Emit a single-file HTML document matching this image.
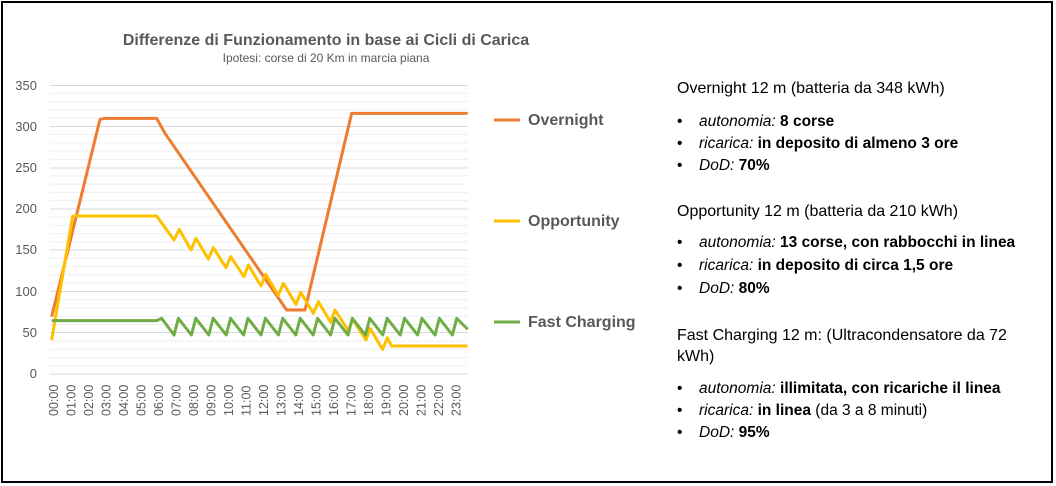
<!DOCTYPE html>
<html><head><meta charset="utf-8"><style>
body{margin:0;width:1056px;height:486px;background:#fff;font-family:"Liberation Sans",sans-serif;overflow:hidden}
.box{position:absolute;left:1px;top:1px;width:1048px;height:478px;border:2px solid #000}
.t{position:absolute;white-space:nowrap;font-size:16px;color:#000}
.b{position:absolute;white-space:nowrap;font-size:15.5px;color:#000;left:677px}
.b:before{content:"•";position:absolute;left:0}
.b span{margin-left:22px}
</style></head><body>
<div class="box"></div>
<svg width="1056" height="486" style="position:absolute;left:0;top:0">
<text x="326" y="45" text-anchor="middle" font-size="16" font-weight="bold" fill="#595959" font-family="Liberation Sans">Differenze di Funzionamento  in base ai Cicli di Carica</text>
<text x="326" y="62" text-anchor="middle" font-size="12" fill="#595959" font-family="Liberation Sans">Ipotesi: corse di 20 Km in marcia piana</text>
<g id="minor" stroke="#efefef"></g>
<g stroke="#d9d9d9" stroke-width="1">
<line x1="50" x2="468" y1="85.5" y2="85.5"/><line x1="50" x2="468" y1="126.5" y2="126.5"/><line x1="50" x2="468" y1="168" y2="168"/><line x1="50" x2="468" y1="209" y2="209"/><line x1="50" x2="468" y1="250" y2="250"/><line x1="50" x2="468" y1="291.5" y2="291.5"/><line x1="50" x2="468" y1="332.5" y2="332.5"/><line x1="50" x2="468" y1="374" y2="374"/>
</g>
<g font-size="13" fill="#595959" text-anchor="end" font-family="Liberation Sans">
<text x="37" y="90">350</text><text x="37" y="131">300</text><text x="37" y="172">250</text><text x="37" y="213">200</text><text x="37" y="254">150</text><text x="37" y="296">100</text><text x="37" y="337">50</text><text x="37" y="378">0</text>
</g>
<g id="xl" font-size="12.5" fill="#595959" font-family="Liberation Sans"></g>
<g transform="translate(0,70) scale(0.33333)" fill="none" stroke-width="9" stroke-linejoin="round">
<polyline stroke="#ED7D31" points="155,740 300,148 315,145 470,145 495,190 860,720 915,720 1055,130 1403,130"/>
<polyline stroke="#FFC000" points="155,810 218,438 470,438 522,510 538,478 573,540 588,505 625,567 640,533 678,593 692,560 732,620 745,585 783,648 797,613 835,676 850,640 888,703 902,667 940,730 955,695 992,757 1005,720 1045,782 1058,748 1098,810 1110,775 1148,838 1162,803 1175,828 1403,828"/>
<polyline id="g" stroke="#70AD47" points=""/>
</g>
<g stroke-width="3"><line x1="494" x2="520" y1="120" y2="120" stroke="#ED7D31"/><line x1="494" x2="520" y1="221" y2="221" stroke="#FFC000"/><line x1="494" x2="520" y1="322" y2="322" stroke="#70AD47"/></g>
<g font-size="16" font-weight="bold" fill="#595959" font-family="Liberation Sans"><text x="528" y="125">Overnight</text><text x="528" y="226">Opportunity</text><text x="528" y="327">Fast Charging</text></g>
</svg>
<div class="t" style="left:677px;top:80px">Overnight  12 m (batteria da 348 kWh)</div>
<div class="b" style="top:113px"><span><i>autonomia:</i> <b>8 corse</b></span></div>
<div class="b" style="top:135px"><span><i>ricarica:</i> <b>in deposito di almeno 3 ore</b></span></div>
<div class="b" style="top:157px"><span><i>DoD:</i> <b>70%</b></span></div>
<div class="t" style="left:677px;top:203px">Opportunity  12 m (batteria da 210 kWh)</div>
<div class="b" style="top:234px"><span><i>autonomia:</i> <b>13 corse,  con rabbocchi in linea</b></span></div>
<div class="b" style="top:257px"><span><i>ricarica:</i> <b>in deposito di circa 1,5 ore</b></span></div>
<div class="b" style="top:280px"><span><i>DoD:</i> <b>80%</b></span></div>
<div class="t" style="left:677px;top:327px">Fast Charging 12 m: (Ultracondensatore da 72</div>
<div class="t" style="left:677px;top:348px">kWh)</div>
<div class="b" style="top:380px"><span><i>autonomia:</i> <b>illimitata, con ricariche il linea</b></span></div>
<div class="b" style="top:402px"><span><i>ricarica:</i> <b>in linea</b> (da 3 a 8 minuti)</span></div>
<div class="b" style="top:424px"><span><i>DoD:</i> <b>95%</b></span></div>
<script>
var ns="http://www.w3.org/2000/svg";
var m=document.getElementById("minor");
for(var v=0;v<350;v+=10){if(v%50==0)continue;var y=374-v*0.8257;var l=document.createElementNS(ns,"line");l.setAttribute("x1",50);l.setAttribute("x2",468);l.setAttribute("y1",y);l.setAttribute("y2",y);m.appendChild(l);}
var xl=document.getElementById("xl");
for(var i=0;i<24;i++){var x=53.3+i*17.51;var t=document.createElementNS(ns,"text");t.setAttribute("transform","translate("+(x+4.5)+",416) rotate(-90)");t.textContent=(i<10?"0":"")+i+":00";xl.appendChild(t);}
var p="155,752 470,752 485,745";
for(var k=0;k<17;k++){var tx=522+k*52.2;p+=" "+tx+",795 "+(tx+13)+",745";}
p+=" 1403,778";
document.getElementById("g").setAttribute("points",p);
</script>
</body></html>
